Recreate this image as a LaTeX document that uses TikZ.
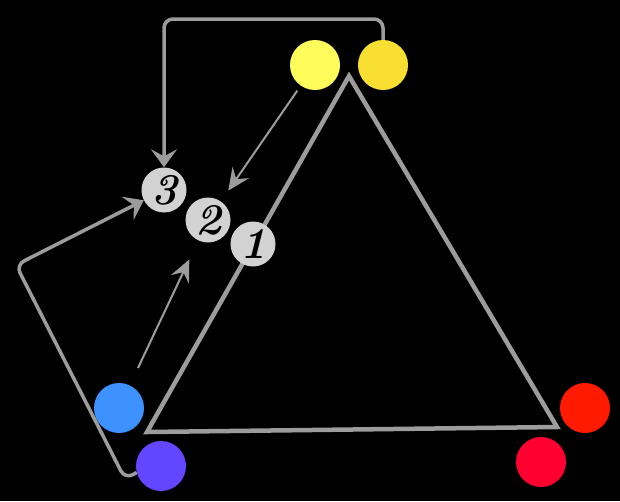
\documentclass[tikz,border=0pt]{standalone}
\usepackage{fontspec}
\usetikzlibrary{arrows.meta}
\definecolor{conn}{HTML}{9C9C9C}
\definecolor{numfill}{HTML}{D2D2D2}
\definecolor{yelA}{HTML}{FFFC5C}
\definecolor{yelB}{HTML}{F9DF32}
\definecolor{bluA}{HTML}{3D92FF}
\definecolor{purA}{HTML}{6346FF}
\definecolor{redA}{HTML}{FF1A00}
\definecolor{redB}{HTML}{FF0030}
\tikzset{
  dot/.style={circle, minimum size=50pt, inner sep=0pt, draw=none},
  numc/.style={circle, fill=numfill, minimum size=45pt, inner sep=0pt,
    font=\fontsize{44}{44}\selectfont\bfseries\itshape},
  thick conn/.style={draw=conn, line width=3.5pt, rounded corners=9pt,
    -{Stealth[length=18pt,width=26pt,inset=7pt]}},
  thin conn/.style={draw=conn, line width=2pt,
    -{Stealth[length=22pt,width=20pt,inset=8pt]}},
  tri/.style={draw=conn, line width=4.5pt, line join=miter}
}
\begin{document}
\begin{tikzpicture}[x=1pt,y=-1pt]
\fill[black] (0,0) rectangle (620,501);
\useasboundingbox (0,0) rectangle (620,501);
% triangle
\coordinate (ta) at (349,76);
\coordinate (tl) at (147,432);
\coordinate (tr) at (557,427);
\draw[tri] (ta) -- (tl) -- (tr) -- cycle;
% colored dots
\node[dot, fill=yelA] (y1) at (315,65) {};
\node[dot, fill=yelB] (y2) at (383,65) {};
\node[dot, fill=bluA] (bl) at (119,408) {};
\node[dot, fill=purA] (pu) at (161,466) {};
\node[dot, fill=redA] (r1) at (585,408) {};
\node[dot, fill=redB] (r2) at (541,462) {};
% numbered circles
\node[numc] (n3) at (164,190) {3};
\node[numc] (n2) at (208,220) {2};
\node[numc] (n1) at (253,244) {1};
% connectors
\coordinate (topc) at (0,19);
\draw[thick conn] (y2.north) -- (y2.north |- topc) -| (n3.north);
\coordinate (cb) at (125,479);
\coordinate (cl) at (16,265);
\draw[thick conn] (pu.195) -- (cb) -- (cl) -- (n3);
\draw[thin conn, shorten <=6pt, shorten >=13pt] (y1) -- (n2);
\draw[thin conn, shorten <=19pt, shorten >=21pt] (bl) -- (n2);
\end{tikzpicture}
\end{document}
